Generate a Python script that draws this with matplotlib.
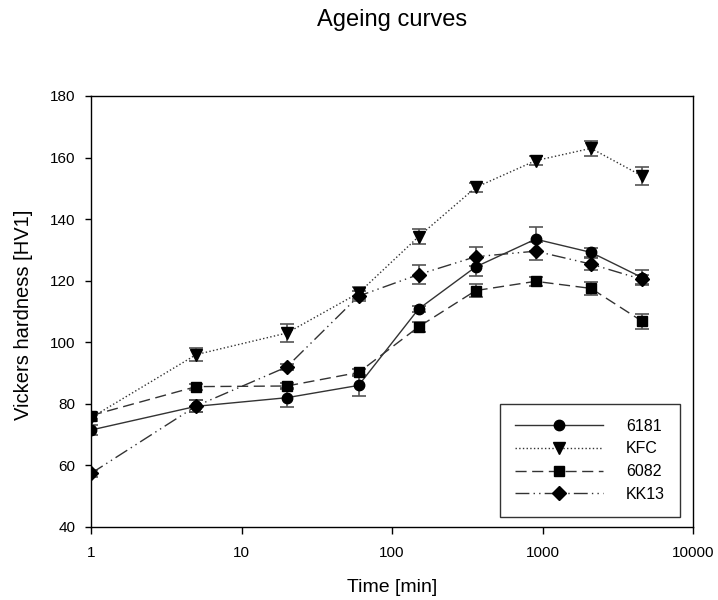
import matplotlib
matplotlib.use("Agg")
import matplotlib.pyplot as plt
import numpy as np

plt.rcParams['font.family'] = ['Liberation Sans', 'DejaVu Sans']

time_min = [1, 5, 20, 60, 150, 360, 900, 2100, 4600]

hv_6181 = [71.5, 79.2, 82.0, 86.0, 110.8, 124.5, 133.5, 129.2, 121.0]
err_6181 = [1.5, 2.0, 3.0, 3.5, 1.0, 3.0, 4.0, 1.5, 2.5]

hv_kfc = [75.5, 96.0, 103.0, 116.0, 134.3, 150.3, 159.0, 163.0, 154.0]
err_kfc = [1.0, 2.0, 3.0, 2.0, 2.5, 1.5, 1.5, 2.5, 3.0]

hv_6082 = [76.2, 85.6, 85.8, 90.2, 105.0, 116.8, 119.8, 117.5, 106.8]
err_6082 = [1.0, 1.0, 1.0, 1.0, 1.5, 2.0, 1.5, 2.0, 2.5]

hv_kk13 = [57.4, 79.3, 92.0, 115.0, 122.0, 127.8, 129.6, 125.4, 120.4]
err_kk13 = [1.0, 2.0, 1.0, 1.5, 3.0, 3.0, 3.0, 2.0, 1.5]

labels = ['6181', 'KFC', '6082', 'KK13']

W, H = 718, 600
fig = plt.figure(figsize=(W / 100, H / 100), dpi=100)
ax_l, ax_r, ax_t, ax_b = 91, 693, 96, 527
ax = fig.add_axes([ax_l / W, 1 - ax_b / H, (ax_r - ax_l) / W, (ax_b - ax_t) / H])

series = [
    (hv_6181, err_6181, 'o', '-', 7.5),
    (hv_kfc, err_kfc, 'v', ':', 8.5),
    (hv_6082, err_6082, 's', (0, (8, 4)), 7.5),
    (hv_kk13, err_kk13, 'D', (0, (10, 3, 1, 3, 1, 3)), 7),
]

for (vals, errs, mk, ls, ms), lab in zip(series, labels):
    ax.errorbar(time_min, vals, yerr=errs, fmt='none', ecolor='#555555',
                elinewidth=1.2, capsize=5, capthick=1.2, zorder=2)
    ax.plot(time_min, vals, linestyle=ls, color='#333333', linewidth=1.0,
            marker=mk, markersize=ms, markerfacecolor='black',
            markeredgecolor='black', label=lab, zorder=3)

ax.set_xscale('log')
ax.set_xlim(1, 10000)
ax.set_ylim(40, 180)
ax.set_yticks(np.arange(40, 181, 20))
ax.set_xticks([1, 10, 100, 1000, 10000])
ax.set_xticklabels(['1', '10', '100', '1000', '10000'])
ax.xaxis.set_minor_locator(matplotlib.ticker.NullLocator())
ax.tick_params(axis='x', direction='out', length=5, width=1, labelsize=11, pad=9)
ax.tick_params(axis='y', direction='out', length=4.5, width=1, labelsize=11, pad=6.5)
for sp in ax.spines.values():
    sp.set_linewidth(1.0)

cx = (ax_l + ax_r) / 2 / W
fig.text(cx, 1 - 588 / H, 'Time [min]', ha='center', va='center', fontsize=14)
fig.text(24 / W, 1 - 315 / H, 'Vickers hardness [HV1]', ha='center', va='center',
         rotation=90, fontsize=14.5)
fig.text(cx, 1 - 20 / H, 'Ageing curves', ha='center', va='center', fontsize=17)

leg = ax.legend(loc='lower right', bbox_to_anchor=((680 - ax_l) / (ax_r - ax_l), (ax_b - 517) / (ax_b - ax_t)),
                fontsize=11.5, frameon=True, fancybox=False, edgecolor='black',
                handlelength=5.5, borderpad=0.95, labelspacing=0.48,
                handletextpad=1.45, borderaxespad=0)
leg.get_frame().set_linewidth(1.0)

fig.savefig('out.png', dpi=100)
